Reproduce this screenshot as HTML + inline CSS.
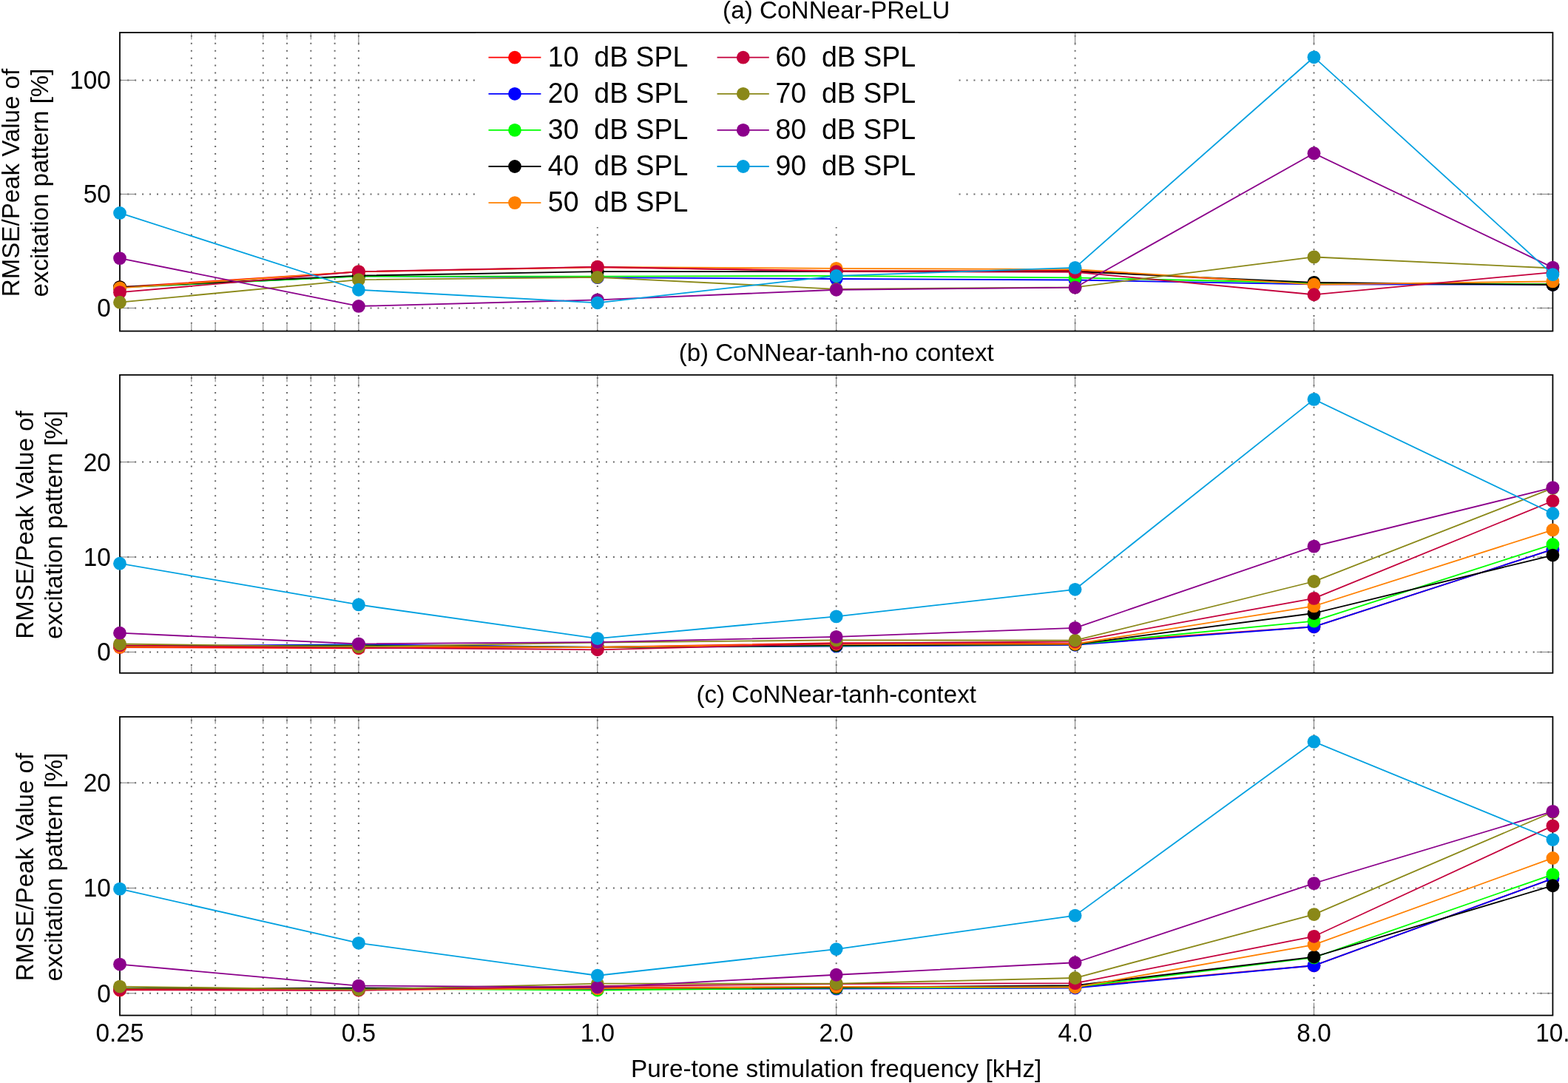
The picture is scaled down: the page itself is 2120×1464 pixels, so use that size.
<!DOCTYPE html>
<html><head><meta charset="utf-8"><title>CoNNear RMSE</title>
<style>html,body{margin:0;padding:0;background:#fff;overflow:hidden;}svg{display:block;}text{font-family:"Liberation Sans", Arial, Helvetica, sans-serif;fill:#000;}</style></head><body>
<svg width="2120" height="1464" viewBox="0 0 2120 1464">
<rect x="0" y="0" width="2120" height="1464" fill="#fff"/>
<g>
<line x1="162" y1="416.4" x2="2099.4" y2="416.4" stroke="#6a6a6a" stroke-width="2" stroke-dasharray="2 7.95" stroke-dashoffset="-0.25"/>
<line x1="162" y1="262.4" x2="643" y2="262.4" stroke="#6a6a6a" stroke-width="2" stroke-dasharray="2 7.95" stroke-dashoffset="-0.25"/>
<line x1="1296" y1="262.4" x2="2099.4" y2="262.4" stroke="#6a6a6a" stroke-width="2" stroke-dasharray="2 7.95" stroke-dashoffset="9.4"/>
<line x1="162" y1="108.4" x2="643" y2="108.4" stroke="#6a6a6a" stroke-width="2" stroke-dasharray="2 7.95" stroke-dashoffset="-0.25"/>
<line x1="1296" y1="108.4" x2="2099.4" y2="108.4" stroke="#6a6a6a" stroke-width="2" stroke-dasharray="2 7.95" stroke-dashoffset="9.4"/>
<line x1="258.87" y1="447.6" x2="258.87" y2="44" stroke="#6a6a6a" stroke-width="2" stroke-dasharray="2 7.95" stroke-dashoffset="0.2"/>
<line x1="291.16" y1="447.6" x2="291.16" y2="44" stroke="#6a6a6a" stroke-width="2" stroke-dasharray="2 7.95" stroke-dashoffset="0.2"/>
<line x1="355.74" y1="447.6" x2="355.74" y2="44" stroke="#6a6a6a" stroke-width="2" stroke-dasharray="2 7.95" stroke-dashoffset="0.2"/>
<line x1="388.03" y1="447.6" x2="388.03" y2="44" stroke="#6a6a6a" stroke-width="2" stroke-dasharray="2 7.95" stroke-dashoffset="0.2"/>
<line x1="420.32" y1="447.6" x2="420.32" y2="44" stroke="#6a6a6a" stroke-width="2" stroke-dasharray="2 7.95" stroke-dashoffset="0.2"/>
<line x1="452.61" y1="447.6" x2="452.61" y2="44" stroke="#6a6a6a" stroke-width="2" stroke-dasharray="2 7.95" stroke-dashoffset="0.2"/>
<line x1="484.9" y1="447.6" x2="484.9" y2="44" stroke="#6a6a6a" stroke-width="2" stroke-dasharray="2 7.95" stroke-dashoffset="0.2"/>
<line x1="807.8" y1="447.6" x2="807.8" y2="306.8" stroke="#6a6a6a" stroke-width="2" stroke-dasharray="2 7.95" stroke-dashoffset="0.2"/>
<line x1="1130.7" y1="447.6" x2="1130.7" y2="306.8" stroke="#6a6a6a" stroke-width="2" stroke-dasharray="2 7.95" stroke-dashoffset="0.2"/>
<line x1="1453.6" y1="447.6" x2="1453.6" y2="44" stroke="#6a6a6a" stroke-width="2" stroke-dasharray="2 7.95" stroke-dashoffset="0.2"/>
<line x1="1776.5" y1="447.6" x2="1776.5" y2="44" stroke="#6a6a6a" stroke-width="2" stroke-dasharray="2 7.95" stroke-dashoffset="0.2"/>
</g>
<g stroke="#7a7a7a" stroke-width="1">
<line x1="162" y1="416.4" x2="183.5" y2="416.4"/>
<line x1="2099.4" y1="416.4" x2="2077.9" y2="416.4"/>
<line x1="162" y1="262.4" x2="183.5" y2="262.4"/>
<line x1="2099.4" y1="262.4" x2="2077.9" y2="262.4"/>
<line x1="162" y1="108.4" x2="183.5" y2="108.4"/>
<line x1="2099.4" y1="108.4" x2="2077.9" y2="108.4"/>
<line x1="484.9" y1="447.6" x2="484.9" y2="430.6"/>
<line x1="484.9" y1="44" x2="484.9" y2="61"/>
<line x1="807.8" y1="447.6" x2="807.8" y2="430.6"/>
<line x1="1130.7" y1="447.6" x2="1130.7" y2="430.6"/>
<line x1="1453.6" y1="447.6" x2="1453.6" y2="430.6"/>
<line x1="1453.6" y1="44" x2="1453.6" y2="61"/>
<line x1="1776.5" y1="447.6" x2="1776.5" y2="430.6"/>
<line x1="1776.5" y1="44" x2="1776.5" y2="61"/>
<line x1="258.87" y1="447.6" x2="258.87" y2="438.1"/>
<line x1="258.87" y1="44" x2="258.87" y2="53.5"/>
<line x1="291.16" y1="447.6" x2="291.16" y2="438.1"/>
<line x1="291.16" y1="44" x2="291.16" y2="53.5"/>
<line x1="355.74" y1="447.6" x2="355.74" y2="438.1"/>
<line x1="355.74" y1="44" x2="355.74" y2="53.5"/>
<line x1="388.03" y1="447.6" x2="388.03" y2="438.1"/>
<line x1="388.03" y1="44" x2="388.03" y2="53.5"/>
<line x1="420.32" y1="447.6" x2="420.32" y2="438.1"/>
<line x1="420.32" y1="44" x2="420.32" y2="53.5"/>
<line x1="452.61" y1="447.6" x2="452.61" y2="438.1"/>
<line x1="452.61" y1="44" x2="452.61" y2="53.5"/>
</g>
<rect x="162" y="44" width="1937.4" height="403.6" fill="none" stroke="#000" stroke-width="1.8"/>
<text x="1130.7" y="24.5" font-size="33.3" text-anchor="middle">(a) CoNNear-PReLU</text>
<text transform="translate(149.8,428.3) scale(1,1.03)" font-size="33.3" text-anchor="end">0</text>
<text transform="translate(149.8,274.3) scale(1,1.03)" font-size="33.3" text-anchor="end">50</text>
<text transform="translate(149.8,120.3) scale(1,1.03)" font-size="33.3" text-anchor="end">100</text>
<text transform="translate(26.1,247) rotate(-90)" font-size="33.1" text-anchor="middle">RMSE/Peak Value of</text>
<text transform="translate(65.4,247) rotate(-90)" font-size="33.1" text-anchor="middle">excitation pattern [%]</text>
<polyline points="162,388.06 484.9,367.43 807.8,361.27 1130.7,366.2 1453.6,365.89 1776.5,384.37 2099.4,383.75" fill="none" stroke="#ff0000" stroke-width="1.8" stroke-linejoin="round"/>
<circle cx="162" cy="388.06" r="8.9" fill="#ff0000"/>
<circle cx="484.9" cy="367.43" r="8.9" fill="#ff0000"/>
<circle cx="807.8" cy="361.27" r="8.9" fill="#ff0000"/>
<circle cx="1130.7" cy="366.2" r="8.9" fill="#ff0000"/>
<circle cx="1453.6" cy="365.89" r="8.9" fill="#ff0000"/>
<circle cx="1776.5" cy="384.37" r="8.9" fill="#ff0000"/>
<circle cx="2099.4" cy="383.75" r="8.9" fill="#ff0000"/>
<polyline points="162,388.68 484.9,373.28 807.8,375.13 1130.7,376.98 1453.6,378.52 1776.5,384.37 2099.4,384.68" fill="none" stroke="#0000ff" stroke-width="1.8" stroke-linejoin="round"/>
<circle cx="162" cy="388.68" r="8.9" fill="#0000ff"/>
<circle cx="484.9" cy="373.28" r="8.9" fill="#0000ff"/>
<circle cx="807.8" cy="375.13" r="8.9" fill="#0000ff"/>
<circle cx="1130.7" cy="376.98" r="8.9" fill="#0000ff"/>
<circle cx="1453.6" cy="378.52" r="8.9" fill="#0000ff"/>
<circle cx="1776.5" cy="384.37" r="8.9" fill="#0000ff"/>
<circle cx="2099.4" cy="384.68" r="8.9" fill="#0000ff"/>
<polyline points="162,388.68 484.9,373.59 807.8,373.59 1130.7,372.97 1453.6,375.44 1776.5,382.52 2099.4,384.06" fill="none" stroke="#00ff00" stroke-width="1.8" stroke-linejoin="round"/>
<circle cx="162" cy="388.68" r="8.9" fill="#00ff00"/>
<circle cx="484.9" cy="373.59" r="8.9" fill="#00ff00"/>
<circle cx="807.8" cy="373.59" r="8.9" fill="#00ff00"/>
<circle cx="1130.7" cy="372.97" r="8.9" fill="#00ff00"/>
<circle cx="1453.6" cy="375.44" r="8.9" fill="#00ff00"/>
<circle cx="1776.5" cy="382.52" r="8.9" fill="#00ff00"/>
<circle cx="2099.4" cy="384.06" r="8.9" fill="#00ff00"/>
<polyline points="162,388.06 484.9,372.66 807.8,367.12 1130.7,367.12 1453.6,367.12 1776.5,381.9 2099.4,384.98" fill="none" stroke="#000000" stroke-width="1.8" stroke-linejoin="round"/>
<circle cx="162" cy="388.06" r="8.9" fill="#000000"/>
<circle cx="484.9" cy="372.66" r="8.9" fill="#000000"/>
<circle cx="807.8" cy="367.12" r="8.9" fill="#000000"/>
<circle cx="1130.7" cy="367.12" r="8.9" fill="#000000"/>
<circle cx="1453.6" cy="367.12" r="8.9" fill="#000000"/>
<circle cx="1776.5" cy="381.9" r="8.9" fill="#000000"/>
<circle cx="2099.4" cy="384.98" r="8.9" fill="#000000"/>
<polyline points="162,389.3 484.9,367.43 807.8,360.96 1130.7,362.81 1453.6,364.04 1776.5,384.68 2099.4,380.36" fill="none" stroke="#ff8000" stroke-width="1.8" stroke-linejoin="round"/>
<circle cx="162" cy="389.3" r="8.9" fill="#ff8000"/>
<circle cx="484.9" cy="367.43" r="8.9" fill="#ff8000"/>
<circle cx="807.8" cy="360.96" r="8.9" fill="#ff8000"/>
<circle cx="1130.7" cy="362.81" r="8.9" fill="#ff8000"/>
<circle cx="1453.6" cy="364.04" r="8.9" fill="#ff8000"/>
<circle cx="1776.5" cy="384.68" r="8.9" fill="#ff8000"/>
<circle cx="2099.4" cy="380.36" r="8.9" fill="#ff8000"/>
<polyline points="162,395.15 484.9,367.12 807.8,360.65 1130.7,367.12 1453.6,367.74 1776.5,398.23 2099.4,368.04" fill="none" stroke="#c4003c" stroke-width="1.8" stroke-linejoin="round"/>
<circle cx="162" cy="395.15" r="8.9" fill="#c4003c"/>
<circle cx="484.9" cy="367.12" r="8.9" fill="#c4003c"/>
<circle cx="807.8" cy="360.65" r="8.9" fill="#c4003c"/>
<circle cx="1130.7" cy="367.12" r="8.9" fill="#c4003c"/>
<circle cx="1453.6" cy="367.74" r="8.9" fill="#c4003c"/>
<circle cx="1776.5" cy="398.23" r="8.9" fill="#c4003c"/>
<circle cx="2099.4" cy="368.04" r="8.9" fill="#c4003c"/>
<polyline points="162,408.7 484.9,378.21 807.8,374.82 1130.7,390.84 1453.6,388.37 1776.5,347.41 2099.4,362.5" fill="none" stroke="#8a8818" stroke-width="1.8" stroke-linejoin="round"/>
<circle cx="162" cy="408.7" r="8.9" fill="#8a8818"/>
<circle cx="484.9" cy="378.21" r="8.9" fill="#8a8818"/>
<circle cx="807.8" cy="374.82" r="8.9" fill="#8a8818"/>
<circle cx="1130.7" cy="390.84" r="8.9" fill="#8a8818"/>
<circle cx="1453.6" cy="388.37" r="8.9" fill="#8a8818"/>
<circle cx="1776.5" cy="347.41" r="8.9" fill="#8a8818"/>
<circle cx="2099.4" cy="362.5" r="8.9" fill="#8a8818"/>
<polyline points="162,349.1 484.9,413.94 807.8,405.31 1130.7,391.76 1453.6,388.68 1776.5,207.27 2099.4,361.58" fill="none" stroke="#8b008b" stroke-width="1.8" stroke-linejoin="round"/>
<circle cx="162" cy="349.1" r="8.9" fill="#8b008b"/>
<circle cx="484.9" cy="413.94" r="8.9" fill="#8b008b"/>
<circle cx="807.8" cy="405.31" r="8.9" fill="#8b008b"/>
<circle cx="1130.7" cy="391.76" r="8.9" fill="#8b008b"/>
<circle cx="1453.6" cy="388.68" r="8.9" fill="#8b008b"/>
<circle cx="1776.5" cy="207.27" r="8.9" fill="#8b008b"/>
<circle cx="2099.4" cy="361.58" r="8.9" fill="#8b008b"/>
<polyline points="162,287.96 484.9,391.76 807.8,409.32 1130.7,372.97 1453.6,361.88 1776.5,77.29 2099.4,371.12" fill="none" stroke="#00a0e0" stroke-width="1.8" stroke-linejoin="round"/>
<circle cx="162" cy="287.96" r="8.9" fill="#00a0e0"/>
<circle cx="484.9" cy="391.76" r="8.9" fill="#00a0e0"/>
<circle cx="807.8" cy="409.32" r="8.9" fill="#00a0e0"/>
<circle cx="1130.7" cy="372.97" r="8.9" fill="#00a0e0"/>
<circle cx="1453.6" cy="361.88" r="8.9" fill="#00a0e0"/>
<circle cx="1776.5" cy="77.29" r="8.9" fill="#00a0e0"/>
<circle cx="2099.4" cy="371.12" r="8.9" fill="#00a0e0"/>
<rect x="643" y="44.9" width="653" height="261.9" fill="#fff"/>
<line x1="660.5" y1="77.7" x2="731.4" y2="77.7" stroke="#ff0000" stroke-width="1.8"/>
<circle cx="696" cy="77.7" r="8.9" fill="#ff0000"/>
<text transform="translate(740.8,89.9) scale(1,1.03)" font-size="37.5" xml:space="preserve">10  dB SPL</text>
<line x1="660.5" y1="126.8" x2="731.4" y2="126.8" stroke="#0000ff" stroke-width="1.8"/>
<circle cx="696" cy="126.8" r="8.9" fill="#0000ff"/>
<text transform="translate(740.8,139) scale(1,1.03)" font-size="37.5" xml:space="preserve">20  dB SPL</text>
<line x1="660.5" y1="175.9" x2="731.4" y2="175.9" stroke="#00ff00" stroke-width="1.8"/>
<circle cx="696" cy="175.9" r="8.9" fill="#00ff00"/>
<text transform="translate(740.8,188.1) scale(1,1.03)" font-size="37.5" xml:space="preserve">30  dB SPL</text>
<line x1="660.5" y1="225" x2="731.4" y2="225" stroke="#000000" stroke-width="1.8"/>
<circle cx="696" cy="225" r="8.9" fill="#000000"/>
<text transform="translate(740.8,237.2) scale(1,1.03)" font-size="37.5" xml:space="preserve">40  dB SPL</text>
<line x1="660.5" y1="274.1" x2="731.4" y2="274.1" stroke="#ff8000" stroke-width="1.8"/>
<circle cx="696" cy="274.1" r="8.9" fill="#ff8000"/>
<text transform="translate(740.8,286.3) scale(1,1.03)" font-size="37.5" xml:space="preserve">50  dB SPL</text>
<line x1="969.6" y1="77.7" x2="1039.8" y2="77.7" stroke="#c4003c" stroke-width="1.8"/>
<circle cx="1004.8" cy="77.7" r="8.9" fill="#c4003c"/>
<text transform="translate(1048.5,89.9) scale(1,1.03)" font-size="37.5" xml:space="preserve">60  dB SPL</text>
<line x1="969.6" y1="126.8" x2="1039.8" y2="126.8" stroke="#8a8818" stroke-width="1.8"/>
<circle cx="1004.8" cy="126.8" r="8.9" fill="#8a8818"/>
<text transform="translate(1048.5,139) scale(1,1.03)" font-size="37.5" xml:space="preserve">70  dB SPL</text>
<line x1="969.6" y1="175.9" x2="1039.8" y2="175.9" stroke="#8b008b" stroke-width="1.8"/>
<circle cx="1004.8" cy="175.9" r="8.9" fill="#8b008b"/>
<text transform="translate(1048.5,188.1) scale(1,1.03)" font-size="37.5" xml:space="preserve">80  dB SPL</text>
<line x1="969.6" y1="225" x2="1039.8" y2="225" stroke="#00a0e0" stroke-width="1.8"/>
<circle cx="1004.8" cy="225" r="8.9" fill="#00a0e0"/>
<text transform="translate(1048.5,237.2) scale(1,1.03)" font-size="37.5" xml:space="preserve">90  dB SPL</text>
<g>
<line x1="162" y1="881.4" x2="2099.4" y2="881.4" stroke="#6a6a6a" stroke-width="2" stroke-dasharray="2 7.95" stroke-dashoffset="-0.25"/>
<line x1="162" y1="753" x2="2099.4" y2="753" stroke="#6a6a6a" stroke-width="2" stroke-dasharray="2 7.95" stroke-dashoffset="-0.25"/>
<line x1="162" y1="624.6" x2="2099.4" y2="624.6" stroke="#6a6a6a" stroke-width="2" stroke-dasharray="2 7.95" stroke-dashoffset="-0.25"/>
<line x1="258.87" y1="909.8" x2="258.87" y2="506.8" stroke="#6a6a6a" stroke-width="2" stroke-dasharray="2 7.95" stroke-dashoffset="0.2"/>
<line x1="291.16" y1="909.8" x2="291.16" y2="506.8" stroke="#6a6a6a" stroke-width="2" stroke-dasharray="2 7.95" stroke-dashoffset="0.2"/>
<line x1="355.74" y1="909.8" x2="355.74" y2="506.8" stroke="#6a6a6a" stroke-width="2" stroke-dasharray="2 7.95" stroke-dashoffset="0.2"/>
<line x1="388.03" y1="909.8" x2="388.03" y2="506.8" stroke="#6a6a6a" stroke-width="2" stroke-dasharray="2 7.95" stroke-dashoffset="0.2"/>
<line x1="420.32" y1="909.8" x2="420.32" y2="506.8" stroke="#6a6a6a" stroke-width="2" stroke-dasharray="2 7.95" stroke-dashoffset="0.2"/>
<line x1="452.61" y1="909.8" x2="452.61" y2="506.8" stroke="#6a6a6a" stroke-width="2" stroke-dasharray="2 7.95" stroke-dashoffset="0.2"/>
<line x1="484.9" y1="909.8" x2="484.9" y2="506.8" stroke="#6a6a6a" stroke-width="2" stroke-dasharray="2 7.95" stroke-dashoffset="0.2"/>
<line x1="807.8" y1="909.8" x2="807.8" y2="506.8" stroke="#6a6a6a" stroke-width="2" stroke-dasharray="2 7.95" stroke-dashoffset="0.2"/>
<line x1="1130.7" y1="909.8" x2="1130.7" y2="506.8" stroke="#6a6a6a" stroke-width="2" stroke-dasharray="2 7.95" stroke-dashoffset="0.2"/>
<line x1="1453.6" y1="909.8" x2="1453.6" y2="506.8" stroke="#6a6a6a" stroke-width="2" stroke-dasharray="2 7.95" stroke-dashoffset="0.2"/>
<line x1="1776.5" y1="909.8" x2="1776.5" y2="506.8" stroke="#6a6a6a" stroke-width="2" stroke-dasharray="2 7.95" stroke-dashoffset="0.2"/>
</g>
<g stroke="#7a7a7a" stroke-width="1">
<line x1="162" y1="881.4" x2="183.5" y2="881.4"/>
<line x1="2099.4" y1="881.4" x2="2077.9" y2="881.4"/>
<line x1="162" y1="753" x2="183.5" y2="753"/>
<line x1="2099.4" y1="753" x2="2077.9" y2="753"/>
<line x1="162" y1="624.6" x2="183.5" y2="624.6"/>
<line x1="2099.4" y1="624.6" x2="2077.9" y2="624.6"/>
<line x1="484.9" y1="909.8" x2="484.9" y2="892.8"/>
<line x1="484.9" y1="506.8" x2="484.9" y2="523.8"/>
<line x1="807.8" y1="909.8" x2="807.8" y2="892.8"/>
<line x1="807.8" y1="506.8" x2="807.8" y2="523.8"/>
<line x1="1130.7" y1="909.8" x2="1130.7" y2="892.8"/>
<line x1="1130.7" y1="506.8" x2="1130.7" y2="523.8"/>
<line x1="1453.6" y1="909.8" x2="1453.6" y2="892.8"/>
<line x1="1453.6" y1="506.8" x2="1453.6" y2="523.8"/>
<line x1="1776.5" y1="909.8" x2="1776.5" y2="892.8"/>
<line x1="1776.5" y1="506.8" x2="1776.5" y2="523.8"/>
<line x1="258.87" y1="909.8" x2="258.87" y2="900.3"/>
<line x1="258.87" y1="506.8" x2="258.87" y2="516.3"/>
<line x1="291.16" y1="909.8" x2="291.16" y2="900.3"/>
<line x1="291.16" y1="506.8" x2="291.16" y2="516.3"/>
<line x1="355.74" y1="909.8" x2="355.74" y2="900.3"/>
<line x1="355.74" y1="506.8" x2="355.74" y2="516.3"/>
<line x1="388.03" y1="909.8" x2="388.03" y2="900.3"/>
<line x1="388.03" y1="506.8" x2="388.03" y2="516.3"/>
<line x1="420.32" y1="909.8" x2="420.32" y2="900.3"/>
<line x1="420.32" y1="506.8" x2="420.32" y2="516.3"/>
<line x1="452.61" y1="909.8" x2="452.61" y2="900.3"/>
<line x1="452.61" y1="506.8" x2="452.61" y2="516.3"/>
</g>
<rect x="162" y="506.8" width="1937.4" height="403" fill="none" stroke="#000" stroke-width="1.8"/>
<text x="1130.7" y="487.5" font-size="33.05" text-anchor="middle">(b) CoNNear-tanh-no context</text>
<text transform="translate(149.8,893.3) scale(1,1.03)" font-size="33.3" text-anchor="end">0</text>
<text transform="translate(149.8,764.9) scale(1,1.03)" font-size="33.3" text-anchor="end">10</text>
<text transform="translate(149.8,636.5) scale(1,1.03)" font-size="33.3" text-anchor="end">20</text>
<text transform="translate(44.6,709.5) rotate(-90)" font-size="33.1" text-anchor="middle">RMSE/Peak Value of</text>
<text transform="translate(84,709.5) rotate(-90)" font-size="33.1" text-anchor="middle">excitation pattern [%]</text>
<polyline points="162,874.98 484.9,876.26 807.8,874.98 1130.7,869.2 1453.6,869.84 1776.5,847.25 2099.4,742.73" fill="none" stroke="#ff0000" stroke-width="1.8" stroke-linejoin="round"/>
<circle cx="162" cy="874.98" r="8.9" fill="#ff0000"/>
<circle cx="484.9" cy="876.26" r="8.9" fill="#ff0000"/>
<circle cx="807.8" cy="874.98" r="8.9" fill="#ff0000"/>
<circle cx="1130.7" cy="869.2" r="8.9" fill="#ff0000"/>
<circle cx="1453.6" cy="869.84" r="8.9" fill="#ff0000"/>
<circle cx="1776.5" cy="847.25" r="8.9" fill="#ff0000"/>
<circle cx="2099.4" cy="742.73" r="8.9" fill="#ff0000"/>
<polyline points="162,873.7 484.9,871.13 807.8,874.98 1130.7,873.7 1453.6,871.77 1776.5,847.25 2099.4,742.73" fill="none" stroke="#0000ff" stroke-width="1.8" stroke-linejoin="round"/>
<circle cx="162" cy="873.7" r="8.9" fill="#0000ff"/>
<circle cx="484.9" cy="871.13" r="8.9" fill="#0000ff"/>
<circle cx="807.8" cy="874.98" r="8.9" fill="#0000ff"/>
<circle cx="1130.7" cy="873.7" r="8.9" fill="#0000ff"/>
<circle cx="1453.6" cy="871.77" r="8.9" fill="#0000ff"/>
<circle cx="1776.5" cy="847.25" r="8.9" fill="#0000ff"/>
<circle cx="2099.4" cy="742.73" r="8.9" fill="#0000ff"/>
<polyline points="162,873.7 484.9,872.41 807.8,874.98 1130.7,872.8 1453.6,871.13 1776.5,839.54 2099.4,735.92" fill="none" stroke="#00ff00" stroke-width="1.8" stroke-linejoin="round"/>
<circle cx="162" cy="873.7" r="8.9" fill="#00ff00"/>
<circle cx="484.9" cy="872.41" r="8.9" fill="#00ff00"/>
<circle cx="807.8" cy="874.98" r="8.9" fill="#00ff00"/>
<circle cx="1130.7" cy="872.8" r="8.9" fill="#00ff00"/>
<circle cx="1453.6" cy="871.13" r="8.9" fill="#00ff00"/>
<circle cx="1776.5" cy="839.54" r="8.9" fill="#00ff00"/>
<circle cx="2099.4" cy="735.92" r="8.9" fill="#00ff00"/>
<polyline points="162,873.7 484.9,873.05 807.8,874.98 1130.7,872.41 1453.6,871.13 1776.5,829.01 2099.4,750.56" fill="none" stroke="#000000" stroke-width="1.8" stroke-linejoin="round"/>
<circle cx="162" cy="873.7" r="8.9" fill="#000000"/>
<circle cx="484.9" cy="873.05" r="8.9" fill="#000000"/>
<circle cx="807.8" cy="874.98" r="8.9" fill="#000000"/>
<circle cx="1130.7" cy="872.41" r="8.9" fill="#000000"/>
<circle cx="1453.6" cy="871.13" r="8.9" fill="#000000"/>
<circle cx="1776.5" cy="829.01" r="8.9" fill="#000000"/>
<circle cx="2099.4" cy="750.56" r="8.9" fill="#000000"/>
<polyline points="162,874.34 484.9,873.7 807.8,874.98 1130.7,870.74 1453.6,870.49 1776.5,819.38 2099.4,716.41" fill="none" stroke="#ff8000" stroke-width="1.8" stroke-linejoin="round"/>
<circle cx="162" cy="874.34" r="8.9" fill="#ff8000"/>
<circle cx="484.9" cy="873.7" r="8.9" fill="#ff8000"/>
<circle cx="807.8" cy="874.98" r="8.9" fill="#ff8000"/>
<circle cx="1130.7" cy="870.74" r="8.9" fill="#ff8000"/>
<circle cx="1453.6" cy="870.49" r="8.9" fill="#ff8000"/>
<circle cx="1776.5" cy="819.38" r="8.9" fill="#ff8000"/>
<circle cx="2099.4" cy="716.41" r="8.9" fill="#ff8000"/>
<polyline points="162,872.41 484.9,875.62 807.8,878.32 1130.7,869.84 1453.6,867.28 1776.5,808.85 2099.4,677.24" fill="none" stroke="#c4003c" stroke-width="1.8" stroke-linejoin="round"/>
<circle cx="162" cy="872.41" r="8.9" fill="#c4003c"/>
<circle cx="484.9" cy="875.62" r="8.9" fill="#c4003c"/>
<circle cx="807.8" cy="878.32" r="8.9" fill="#c4003c"/>
<circle cx="1130.7" cy="869.84" r="8.9" fill="#c4003c"/>
<circle cx="1453.6" cy="867.28" r="8.9" fill="#c4003c"/>
<circle cx="1776.5" cy="808.85" r="8.9" fill="#c4003c"/>
<circle cx="2099.4" cy="677.24" r="8.9" fill="#c4003c"/>
<polyline points="162,870.49 484.9,874.34 807.8,868.56 1130.7,865.35 1453.6,865.74 1776.5,786 2099.4,659.91" fill="none" stroke="#8a8818" stroke-width="1.8" stroke-linejoin="round"/>
<circle cx="162" cy="870.49" r="8.9" fill="#8a8818"/>
<circle cx="484.9" cy="874.34" r="8.9" fill="#8a8818"/>
<circle cx="807.8" cy="868.56" r="8.9" fill="#8a8818"/>
<circle cx="1130.7" cy="865.35" r="8.9" fill="#8a8818"/>
<circle cx="1453.6" cy="865.74" r="8.9" fill="#8a8818"/>
<circle cx="1776.5" cy="786" r="8.9" fill="#8a8818"/>
<circle cx="2099.4" cy="659.91" r="8.9" fill="#8a8818"/>
<polyline points="162,855.72 484.9,870.36 807.8,868.05 1130.7,860.86 1453.6,848.79 1776.5,738.62 2099.4,659.14" fill="none" stroke="#8b008b" stroke-width="1.8" stroke-linejoin="round"/>
<circle cx="162" cy="855.72" r="8.9" fill="#8b008b"/>
<circle cx="484.9" cy="870.36" r="8.9" fill="#8b008b"/>
<circle cx="807.8" cy="868.05" r="8.9" fill="#8b008b"/>
<circle cx="1130.7" cy="860.86" r="8.9" fill="#8b008b"/>
<circle cx="1453.6" cy="848.79" r="8.9" fill="#8b008b"/>
<circle cx="1776.5" cy="738.62" r="8.9" fill="#8b008b"/>
<circle cx="2099.4" cy="659.14" r="8.9" fill="#8b008b"/>
<polyline points="162,761.73 484.9,817.46 807.8,863.04 1130.7,833.38 1453.6,796.78 1776.5,539.86 2099.4,694.19" fill="none" stroke="#00a0e0" stroke-width="1.8" stroke-linejoin="round"/>
<circle cx="162" cy="761.73" r="8.9" fill="#00a0e0"/>
<circle cx="484.9" cy="817.46" r="8.9" fill="#00a0e0"/>
<circle cx="807.8" cy="863.04" r="8.9" fill="#00a0e0"/>
<circle cx="1130.7" cy="833.38" r="8.9" fill="#00a0e0"/>
<circle cx="1453.6" cy="796.78" r="8.9" fill="#00a0e0"/>
<circle cx="1776.5" cy="539.86" r="8.9" fill="#00a0e0"/>
<circle cx="2099.4" cy="694.19" r="8.9" fill="#00a0e0"/>
<g>
<line x1="162" y1="1342.8" x2="2099.4" y2="1342.8" stroke="#6a6a6a" stroke-width="2" stroke-dasharray="2 7.95" stroke-dashoffset="-0.25"/>
<line x1="162" y1="1200.5" x2="2099.4" y2="1200.5" stroke="#6a6a6a" stroke-width="2" stroke-dasharray="2 7.95" stroke-dashoffset="-0.25"/>
<line x1="162" y1="1058.2" x2="2099.4" y2="1058.2" stroke="#6a6a6a" stroke-width="2" stroke-dasharray="2 7.95" stroke-dashoffset="-0.25"/>
<line x1="258.87" y1="1372.6" x2="258.87" y2="969" stroke="#6a6a6a" stroke-width="2" stroke-dasharray="2 7.95" stroke-dashoffset="0.2"/>
<line x1="291.16" y1="1372.6" x2="291.16" y2="969" stroke="#6a6a6a" stroke-width="2" stroke-dasharray="2 7.95" stroke-dashoffset="0.2"/>
<line x1="355.74" y1="1372.6" x2="355.74" y2="969" stroke="#6a6a6a" stroke-width="2" stroke-dasharray="2 7.95" stroke-dashoffset="0.2"/>
<line x1="388.03" y1="1372.6" x2="388.03" y2="969" stroke="#6a6a6a" stroke-width="2" stroke-dasharray="2 7.95" stroke-dashoffset="0.2"/>
<line x1="420.32" y1="1372.6" x2="420.32" y2="969" stroke="#6a6a6a" stroke-width="2" stroke-dasharray="2 7.95" stroke-dashoffset="0.2"/>
<line x1="452.61" y1="1372.6" x2="452.61" y2="969" stroke="#6a6a6a" stroke-width="2" stroke-dasharray="2 7.95" stroke-dashoffset="0.2"/>
<line x1="484.9" y1="1372.6" x2="484.9" y2="969" stroke="#6a6a6a" stroke-width="2" stroke-dasharray="2 7.95" stroke-dashoffset="0.2"/>
<line x1="807.8" y1="1372.6" x2="807.8" y2="969" stroke="#6a6a6a" stroke-width="2" stroke-dasharray="2 7.95" stroke-dashoffset="0.2"/>
<line x1="1130.7" y1="1372.6" x2="1130.7" y2="969" stroke="#6a6a6a" stroke-width="2" stroke-dasharray="2 7.95" stroke-dashoffset="0.2"/>
<line x1="1453.6" y1="1372.6" x2="1453.6" y2="969" stroke="#6a6a6a" stroke-width="2" stroke-dasharray="2 7.95" stroke-dashoffset="0.2"/>
<line x1="1776.5" y1="1372.6" x2="1776.5" y2="969" stroke="#6a6a6a" stroke-width="2" stroke-dasharray="2 7.95" stroke-dashoffset="0.2"/>
</g>
<g stroke="#7a7a7a" stroke-width="1">
<line x1="162" y1="1342.8" x2="183.5" y2="1342.8"/>
<line x1="2099.4" y1="1342.8" x2="2077.9" y2="1342.8"/>
<line x1="162" y1="1200.5" x2="183.5" y2="1200.5"/>
<line x1="2099.4" y1="1200.5" x2="2077.9" y2="1200.5"/>
<line x1="162" y1="1058.2" x2="183.5" y2="1058.2"/>
<line x1="2099.4" y1="1058.2" x2="2077.9" y2="1058.2"/>
<line x1="484.9" y1="1372.6" x2="484.9" y2="1355.6"/>
<line x1="484.9" y1="969" x2="484.9" y2="986"/>
<line x1="807.8" y1="1372.6" x2="807.8" y2="1355.6"/>
<line x1="807.8" y1="969" x2="807.8" y2="986"/>
<line x1="1130.7" y1="1372.6" x2="1130.7" y2="1355.6"/>
<line x1="1130.7" y1="969" x2="1130.7" y2="986"/>
<line x1="1453.6" y1="1372.6" x2="1453.6" y2="1355.6"/>
<line x1="1453.6" y1="969" x2="1453.6" y2="986"/>
<line x1="1776.5" y1="1372.6" x2="1776.5" y2="1355.6"/>
<line x1="1776.5" y1="969" x2="1776.5" y2="986"/>
<line x1="258.87" y1="1372.6" x2="258.87" y2="1363.1"/>
<line x1="258.87" y1="969" x2="258.87" y2="978.5"/>
<line x1="291.16" y1="1372.6" x2="291.16" y2="1363.1"/>
<line x1="291.16" y1="969" x2="291.16" y2="978.5"/>
<line x1="355.74" y1="1372.6" x2="355.74" y2="1363.1"/>
<line x1="355.74" y1="969" x2="355.74" y2="978.5"/>
<line x1="388.03" y1="1372.6" x2="388.03" y2="1363.1"/>
<line x1="388.03" y1="969" x2="388.03" y2="978.5"/>
<line x1="420.32" y1="1372.6" x2="420.32" y2="1363.1"/>
<line x1="420.32" y1="969" x2="420.32" y2="978.5"/>
<line x1="452.61" y1="1372.6" x2="452.61" y2="1363.1"/>
<line x1="452.61" y1="969" x2="452.61" y2="978.5"/>
</g>
<rect x="162" y="969" width="1937.4" height="403.6" fill="none" stroke="#000" stroke-width="1.8"/>
<text x="1130.7" y="949.5" font-size="33.05" text-anchor="middle">(c) CoNNear-tanh-context</text>
<text transform="translate(149.8,1354.7) scale(1,1.03)" font-size="33.3" text-anchor="end">0</text>
<text transform="translate(149.8,1212.4) scale(1,1.03)" font-size="33.3" text-anchor="end">10</text>
<text transform="translate(149.8,1070.1) scale(1,1.03)" font-size="33.3" text-anchor="end">20</text>
<text transform="translate(44.6,1172) rotate(-90)" font-size="33.1" text-anchor="middle">RMSE/Peak Value of</text>
<text transform="translate(84,1172) rotate(-90)" font-size="33.1" text-anchor="middle">excitation pattern [%]</text>
<polyline points="162,1338.39 484.9,1338.53 807.8,1334.97 1130.7,1334.26 1453.6,1334.26 1776.5,1305.23 2099.4,1187.69" fill="none" stroke="#ff0000" stroke-width="1.8" stroke-linejoin="round"/>
<circle cx="162" cy="1338.39" r="8.9" fill="#ff0000"/>
<circle cx="484.9" cy="1338.53" r="8.9" fill="#ff0000"/>
<circle cx="807.8" cy="1334.97" r="8.9" fill="#ff0000"/>
<circle cx="1130.7" cy="1334.26" r="8.9" fill="#ff0000"/>
<circle cx="1453.6" cy="1334.26" r="8.9" fill="#ff0000"/>
<circle cx="1776.5" cy="1305.23" r="8.9" fill="#ff0000"/>
<circle cx="2099.4" cy="1187.69" r="8.9" fill="#ff0000"/>
<polyline points="162,1337.11 484.9,1335.68 807.8,1337.11 1130.7,1336.68 1453.6,1335.54 1776.5,1305.23 2099.4,1187.69" fill="none" stroke="#0000ff" stroke-width="1.8" stroke-linejoin="round"/>
<circle cx="162" cy="1337.11" r="8.9" fill="#0000ff"/>
<circle cx="484.9" cy="1335.68" r="8.9" fill="#0000ff"/>
<circle cx="807.8" cy="1337.11" r="8.9" fill="#0000ff"/>
<circle cx="1130.7" cy="1336.68" r="8.9" fill="#0000ff"/>
<circle cx="1453.6" cy="1335.54" r="8.9" fill="#0000ff"/>
<circle cx="1776.5" cy="1305.23" r="8.9" fill="#0000ff"/>
<circle cx="2099.4" cy="1187.69" r="8.9" fill="#0000ff"/>
<polyline points="162,1336.4 484.9,1336.4 807.8,1338.53 1130.7,1335.68 1453.6,1334.26 1776.5,1294.42 2099.4,1182.14" fill="none" stroke="#00ff00" stroke-width="1.8" stroke-linejoin="round"/>
<circle cx="162" cy="1336.4" r="8.9" fill="#00ff00"/>
<circle cx="484.9" cy="1336.4" r="8.9" fill="#00ff00"/>
<circle cx="807.8" cy="1338.53" r="8.9" fill="#00ff00"/>
<circle cx="1130.7" cy="1335.68" r="8.9" fill="#00ff00"/>
<circle cx="1453.6" cy="1334.26" r="8.9" fill="#00ff00"/>
<circle cx="1776.5" cy="1294.42" r="8.9" fill="#00ff00"/>
<circle cx="2099.4" cy="1182.14" r="8.9" fill="#00ff00"/>
<polyline points="162,1336.4 484.9,1335.68 807.8,1336.4 1130.7,1334.97 1453.6,1332.13 1776.5,1293.56 2099.4,1197.23" fill="none" stroke="#000000" stroke-width="1.8" stroke-linejoin="round"/>
<circle cx="162" cy="1336.4" r="8.9" fill="#000000"/>
<circle cx="484.9" cy="1335.68" r="8.9" fill="#000000"/>
<circle cx="807.8" cy="1336.4" r="8.9" fill="#000000"/>
<circle cx="1130.7" cy="1334.97" r="8.9" fill="#000000"/>
<circle cx="1453.6" cy="1332.13" r="8.9" fill="#000000"/>
<circle cx="1776.5" cy="1293.56" r="8.9" fill="#000000"/>
<circle cx="2099.4" cy="1197.23" r="8.9" fill="#000000"/>
<polyline points="162,1337.11 484.9,1337.82 807.8,1336.4 1130.7,1333.84 1453.6,1334.55 1776.5,1277.06 2099.4,1159.94" fill="none" stroke="#ff8000" stroke-width="1.8" stroke-linejoin="round"/>
<circle cx="162" cy="1337.11" r="8.9" fill="#ff8000"/>
<circle cx="484.9" cy="1337.82" r="8.9" fill="#ff8000"/>
<circle cx="807.8" cy="1336.4" r="8.9" fill="#ff8000"/>
<circle cx="1130.7" cy="1333.84" r="8.9" fill="#ff8000"/>
<circle cx="1453.6" cy="1334.55" r="8.9" fill="#ff8000"/>
<circle cx="1776.5" cy="1277.06" r="8.9" fill="#ff8000"/>
<circle cx="2099.4" cy="1159.94" r="8.9" fill="#ff8000"/>
<polyline points="162,1337.82 484.9,1338.53 807.8,1332.98 1130.7,1329.99 1453.6,1329.14 1776.5,1265.82 2099.4,1116.4" fill="none" stroke="#c4003c" stroke-width="1.8" stroke-linejoin="round"/>
<circle cx="162" cy="1337.82" r="8.9" fill="#c4003c"/>
<circle cx="484.9" cy="1338.53" r="8.9" fill="#c4003c"/>
<circle cx="807.8" cy="1332.98" r="8.9" fill="#c4003c"/>
<circle cx="1130.7" cy="1329.99" r="8.9" fill="#c4003c"/>
<circle cx="1453.6" cy="1329.14" r="8.9" fill="#c4003c"/>
<circle cx="1776.5" cy="1265.82" r="8.9" fill="#c4003c"/>
<circle cx="2099.4" cy="1116.4" r="8.9" fill="#c4003c"/>
<polyline points="162,1333.55 484.9,1337.82 807.8,1329.71 1130.7,1329.57 1453.6,1322.02 1776.5,1236.08 2099.4,1097.76" fill="none" stroke="#8a8818" stroke-width="1.8" stroke-linejoin="round"/>
<circle cx="162" cy="1333.55" r="8.9" fill="#8a8818"/>
<circle cx="484.9" cy="1337.82" r="8.9" fill="#8a8818"/>
<circle cx="807.8" cy="1329.71" r="8.9" fill="#8a8818"/>
<circle cx="1130.7" cy="1329.57" r="8.9" fill="#8a8818"/>
<circle cx="1453.6" cy="1322.02" r="8.9" fill="#8a8818"/>
<circle cx="1776.5" cy="1236.08" r="8.9" fill="#8a8818"/>
<circle cx="2099.4" cy="1097.76" r="8.9" fill="#8a8818"/>
<polyline points="162,1303.53 484.9,1332.55 807.8,1334.55 1130.7,1317.76 1453.6,1301.25 1776.5,1194.1 2099.4,1096.91" fill="none" stroke="#8b008b" stroke-width="1.8" stroke-linejoin="round"/>
<circle cx="162" cy="1303.53" r="8.9" fill="#8b008b"/>
<circle cx="484.9" cy="1332.55" r="8.9" fill="#8b008b"/>
<circle cx="807.8" cy="1334.55" r="8.9" fill="#8b008b"/>
<circle cx="1130.7" cy="1317.76" r="8.9" fill="#8b008b"/>
<circle cx="1453.6" cy="1301.25" r="8.9" fill="#8b008b"/>
<circle cx="1776.5" cy="1194.1" r="8.9" fill="#8b008b"/>
<circle cx="2099.4" cy="1096.91" r="8.9" fill="#8b008b"/>
<polyline points="162,1201.64 484.9,1274.78 807.8,1318.75 1130.7,1283.03 1453.6,1237.64 1776.5,1002.7 2099.4,1135.04" fill="none" stroke="#00a0e0" stroke-width="1.8" stroke-linejoin="round"/>
<circle cx="162" cy="1201.64" r="8.9" fill="#00a0e0"/>
<circle cx="484.9" cy="1274.78" r="8.9" fill="#00a0e0"/>
<circle cx="807.8" cy="1318.75" r="8.9" fill="#00a0e0"/>
<circle cx="1130.7" cy="1283.03" r="8.9" fill="#00a0e0"/>
<circle cx="1453.6" cy="1237.64" r="8.9" fill="#00a0e0"/>
<circle cx="1776.5" cy="1002.7" r="8.9" fill="#00a0e0"/>
<circle cx="2099.4" cy="1135.04" r="8.9" fill="#00a0e0"/>
<text transform="translate(162,1408.4) scale(1,1.03)" font-size="33.3" text-anchor="middle">0.25</text>
<text transform="translate(484.9,1408.4) scale(1,1.03)" font-size="33.3" text-anchor="middle">0.5</text>
<text transform="translate(807.8,1408.4) scale(1,1.03)" font-size="33.3" text-anchor="middle">1.0</text>
<text transform="translate(1130.7,1408.4) scale(1,1.03)" font-size="33.3" text-anchor="middle">2.0</text>
<text transform="translate(1453.6,1408.4) scale(1,1.03)" font-size="33.3" text-anchor="middle">4.0</text>
<text transform="translate(1776.5,1408.4) scale(1,1.03)" font-size="33.3" text-anchor="middle">8.0</text>
<text transform="translate(2099.4,1408.4) scale(1,1.03)" font-size="33.3" text-anchor="middle">10.</text>
<text x="1130.7" y="1455.8" font-size="33.3" text-anchor="middle">Pure-tone stimulation frequency [kHz]</text>
</svg></body></html>
